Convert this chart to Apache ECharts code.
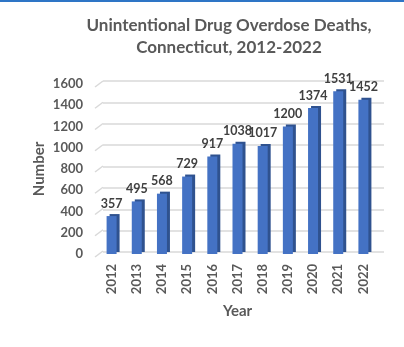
<!DOCTYPE html>
<html><head><meta charset="utf-8">
<script src="https://cdn.jsdelivr.net/npm/echarts@6/dist/echarts.min.js"></script>
<style>html,body{margin:0;padding:0;background:#fff;}#c{width:404px;height:347px;}</style>
</head><body><div id="c"></div>
<script>
const years = ['2012','2013','2014','2015','2016','2017','2018','2019','2020','2021','2022'];
const deaths = [357,495,568,729,917,1038,1017,1200,1374,1531,1452];
const yTicks = [0,200,400,600,800,1000,1200,1400,1600];

const chart = echarts.init(document.getElementById('c'), null, {renderer:'canvas'});
const font = 'Lato, "Liberation Sans", sans-serif';
const grey = '#595959';
chart.setOption({
  animation:false,
  backgroundColor:'#fff',
  title:{
    text:'Unintentional Drug Overdose Deaths,\nConnecticut, 2012-2022',
    left:224, top:10, textAlign:'center',
    textStyle:{fontFamily:font, fontWeight:'bold', fontSize:17, color:grey, lineHeight:22}
  },
  graphic:[{type:'rect', shape:{x:0,y:0,width:404,height:2}, style:{fill:'#2e75c6'}, silent:true}],
  grid:[
    {left:103, right:20, top:81, height:171},   // back wall (gridlines)
    {left:99, width:277, top:84, height:170}    // front plane (bars)
  ],
  xAxis:[
    {gridIndex:0, type:'category', data:years, show:false},
    {gridIndex:1, type:'category', data:years,
      name:'Year', nameLocation:'middle', nameGap:50,
      nameTextStyle:{fontFamily:font, fontWeight:'bold', fontSize:15, color:grey},
      axisLine:{show:false}, axisTick:{show:false},
      axisLabel:{rotate:90, margin:10, fontFamily:font, fontWeight:'bold', fontSize:13, color:grey}}
  ],
  yAxis:[
    {gridIndex:0, type:'value', min:0, max:1600, interval:200,
      axisLine:{show:false}, axisTick:{show:false}, axisLabel:{show:false},
      splitLine:{lineStyle:{color:'#d9d9d9', width:1.5}}},
    {gridIndex:1, type:'value', min:0, max:1600, interval:200,
      name:'Number', nameLocation:'middle', nameGap:52, nameRotate:90, nameMoveOverlap:false,
      nameTextStyle:{fontFamily:font, fontWeight:'bold', fontSize:15, color:grey},
      axisLine:{show:false}, axisTick:{show:false}, splitLine:{show:false},
      axisLabel:{margin:16, padding:[8,0,0,0], fontFamily:font, fontWeight:'bold', fontSize:13, color:grey,
        formatter:v=>yTicks.includes(v)?String(v):''}}
  ],
  series:[
    {
      type:'custom', xAxisIndex:1, yAxisIndex:1, silent:true, clip:false, z:1,
      data:yTicks.map(v=>[0,v]),
      renderItem:function(params, api){
        const p = api.coord([0, api.value(1)]);
        const x0 = params.coordSys.x - 4;
        return {type:'line', shape:{x1:x0, y1:p[1]+3, x2:x0+8, y2:p[1]-3},
          style:{stroke:'#d9d9d9', lineWidth:1.5}};
      }
    },
    {
      type:'bar', xAxisIndex:1, yAxisIndex:1, data:deaths, barWidth:10, z:3,
      itemStyle:{color:'#4472c4', shadowColor:'#2f528f', shadowOffsetX:3, shadowOffsetY:-2, shadowBlur:0},
      label:{show:true, position:'top', distance:6, fontFamily:font, fontWeight:'bold', fontSize:12.5, color:'#404040'}
    }
  ]
});
</script></body></html>
